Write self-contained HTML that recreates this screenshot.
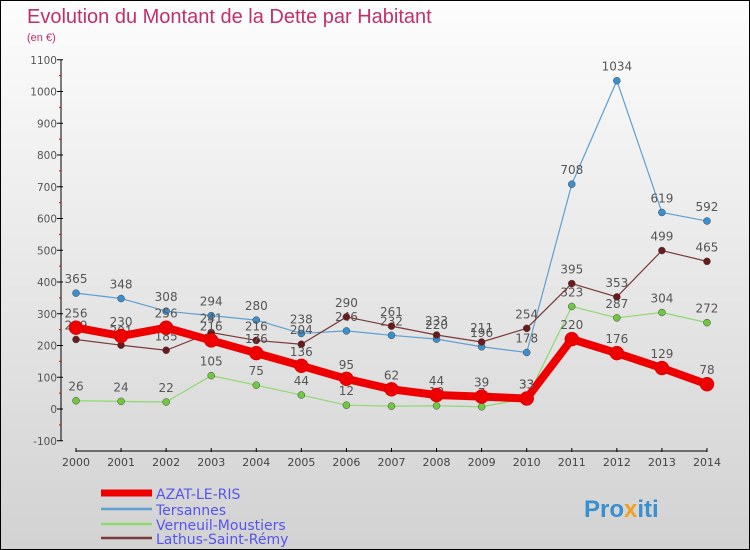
<!DOCTYPE html>
<html><head><meta charset="utf-8"><style>
body{margin:0}
#c{width:750px;height:550px;position:relative;background:linear-gradient(#fdfdfd,#d2d2d2);box-sizing:border-box;border:1px solid #000;overflow:hidden;font-family:"DejaVu Sans","Liberation Sans",sans-serif}
</style></head><body>
<div id="c">
<svg id="s" width="750" height="550" style="position:absolute;left:0;top:0">
<text x="26" y="22" font-size="20" fill="#c0306a" font-family="Liberation Sans">Evolution du Montant de la Dette par Habitant</text>
<text x="26" y="40" font-size="11" fill="#c0306a" font-family="Liberation Sans">(en €)</text>
<g id="axes"></g><g id="series"></g><g id="legend"></g>
<text x="583" y="516" font-size="24" font-weight="bold" fill="#3a8fd0" font-family="Liberation Sans">Pro<tspan fill="#f0a020">x</tspan>iti</text>
</svg>
</div>
<script>
const years=[2000,2001,2002,2003,2004,2005,2006,2007,2008,2009,2010,2011,2012,2013,2014];
const azat=[256,230,256,216,176,136,95,62,44,39,33,220,176,129,78];
const tersannes=[365,348,308,294,280,238,246,232,220,196,178,708,1034,619,592];
const verneuil=[26,24,22,105,75,44,12,9,10,7,33,323,287,304,272];
const lathus=[219,201,185,241,216,204,290,261,233,211,254,395,353,499,465];
const yTicks=[-100,0,100,200,300,400,500,600,700,800,900,1000,1100];
const names=["AZAT-LE-RIS","Tersannes","Verneuil-Moustiers","Lathus-Saint-Rémy"];
const NS="http://www.w3.org/2000/svg";
function X(i){return 75+i*45.07;}
function Y(v){return 408-v*0.3175;}
function mk(p,t,a){const e=document.createElementNS(NS,t);for(const k in a)e.setAttribute(k,a[k]);p.appendChild(e);return e;}
const ax=document.getElementById('axes');
mk(ax,'line',{x1:60,y1:Y(1100),x2:60,y2:Y(-100),stroke:'#000'});
yTicks.forEach(v=>{
 const t=mk(ax,'line',{x1:56,x2:62,y1:Y(v),y2:Y(v),stroke:'#000'});
 
 if(v<1100)mk(ax,'line',{x1:58,x2:60,y1:Y(v+50),y2:Y(v+50),stroke:'#e00'});
 const l=mk(ax,'text',{x:56,y:Y(v)+4,'text-anchor':'end','font-size':10.5,fill:'#555'});l.textContent=v;
 
});
mk(ax,'line',{x1:75,x2:X(14),y1:450,y2:450,stroke:'#000'});
years.forEach((y,i)=>{
 mk(ax,'line',{x1:X(i),x2:X(i),y1:447,y2:451,stroke:'#000'});
 const l=mk(ax,'text',{x:X(i),y:465,'text-anchor':'middle','font-size':11,fill:'#444'});l.textContent=y;
 
});
const sg=document.getElementById('series');
const cfg=[[azat,'#ee0000',8,7,'#ee0000'],[tersannes,'#5fa0d0',1.2,3.5,'#3a8fd0'],[verneuil,'#90d870',1.2,3.5,'#70c840'],[lathus,'#7a3a3a',1.2,3.5,'#6a1a1a']];
const order=[1,2,3,0];
order.forEach(si=>{
 const [d,c,w,r,fc]=cfg[si];
 const g=mk(sg,'g',{});
 
 
 mk(g,'polyline',{points:d.map((v,i)=>X(i)+','+Y(v)).join(' '),fill:'none',stroke:c,'stroke-width':w});
 d.forEach((v,i)=>{
  const p=mk(g,'circle',{cx:X(i),cy:Y(v),r:r,fill:fc,stroke:si==0?'#c00':'#444','stroke-width':0.5});
  
  const t=mk(g,'text',{x:X(i),y:Y(v)-10,'text-anchor':'middle','font-size':12,fill:'#555'});t.textContent=v;
  
 });
});
const lg=document.getElementById('legend');
const ly=[492,508,523,537];
names.forEach((n,i)=>{
 const g=mk(lg,'g',{});
 
 mk(g,'line',{x1:100,x2:151,y1:ly[i],y2:ly[i],stroke:cfg[i][1],'stroke-width':i==0?7:2.5});
 const t=mk(g,'text',{x:155,y:ly[i]+6,'font-size':14,fill:'#5555ee'});t.textContent=n;
});
</script>
</body></html>
